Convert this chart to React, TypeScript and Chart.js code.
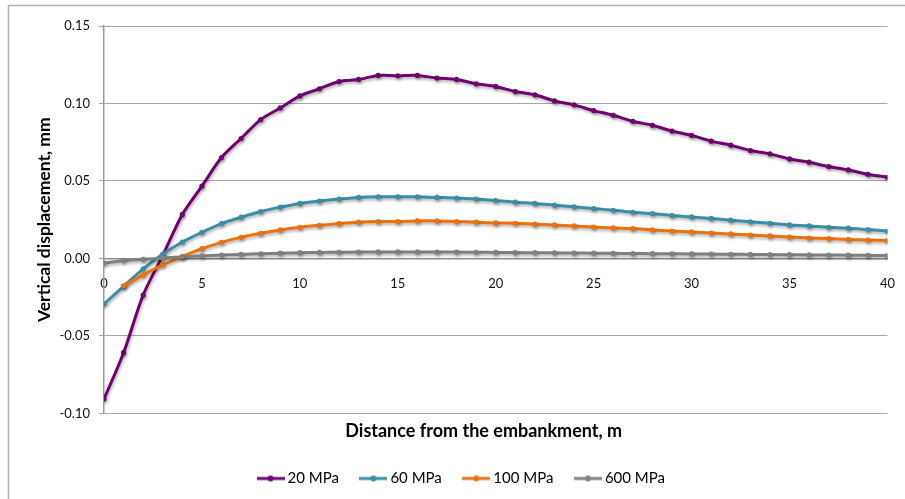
import React, { useEffect, useRef } from "react";
import { Chart, registerables } from "chart.js";

Chart.register(...registerables);

// Distance from the embankment (m)
const distances = [
  0, 1, 2, 3, 4, 5, 6, 7, 8, 9, 10, 11, 12, 13, 14, 15, 16, 17, 18, 19, 20,
  21, 22, 23, 24, 25, 26, 27, 28, 29, 30, 31, 32, 33, 34, 35, 36, 37, 38, 39, 40,
];

// Vertical displacement (mm) per soil modulus
const mpa20 = [
  -0.0907, -0.0608, -0.0236, 0.002, 0.0284, 0.0467, 0.0651, 0.0774, 0.0896, 0.0971,
  0.1049, 0.1095, 0.1142, 0.1155, 0.1181, 0.1179, 0.1181, 0.1164, 0.1155, 0.1127,
  0.111, 0.1077, 0.1056, 0.1017, 0.0991, 0.0954, 0.0924, 0.0885, 0.0859, 0.0822,
  0.0794, 0.0757, 0.0731, 0.0696, 0.0675, 0.0642, 0.0621, 0.0593, 0.0571, 0.0543,
  0.0524,
];
const mpa60 = [
  -0.0294, -0.018, -0.0067, 0.0028, 0.0106, 0.0169, 0.0225, 0.0266, 0.0303, 0.0331,
  0.0355, 0.037, 0.0383, 0.0394, 0.0398, 0.0398, 0.0398, 0.0394, 0.039, 0.0383,
  0.0374, 0.0363, 0.0355, 0.0344, 0.0333, 0.0322, 0.0311, 0.0298, 0.029, 0.0277,
  0.0268, 0.0258, 0.0247, 0.0236, 0.0227, 0.0216, 0.021, 0.0201, 0.0195, 0.0186,
  0.0177,
];
const mpa100 = [
  null, -0.0177, -0.0106, -0.0041, 0.0013, 0.0063, 0.0104, 0.0136, 0.0162, 0.0184,
  0.0201, 0.0214, 0.0225, 0.0234, 0.0238, 0.0238, 0.0242, 0.0242, 0.0238, 0.0234,
  0.0229, 0.0227, 0.0221, 0.0216, 0.021, 0.0203, 0.0197, 0.0193, 0.0184, 0.0177,
  0.0171, 0.0164, 0.0158, 0.0151, 0.0145, 0.0138, 0.0132, 0.0128, 0.0123, 0.0119,
  0.0115,
];
const mpa600 = [
  -0.003, -0.0013, -0.0006, 0.0002, 0.0011, 0.0017, 0.0022, 0.0026, 0.003, 0.0034,
  0.0037, 0.0039, 0.004, 0.0041, 0.0042, 0.0042, 0.0042, 0.0041, 0.0041, 0.004,
  0.0039, 0.0038, 0.0037, 0.0036, 0.0035, 0.0034, 0.0033, 0.0032, 0.0031, 0.003,
  0.0029, 0.0028, 0.0027, 0.0026, 0.0025, 0.0024, 0.0023, 0.0022, 0.0021, 0.002,
  0.0019,
];

const seriesLabels = ["20 MPa", "60 MPa", "100 MPa", "600 MPa"];
const seriesColors = ["#700070", "#3a8ea6", "#eb720f", "#808080"];
const seriesValues = [mpa20, mpa60, mpa100, mpa600];

const xTitle = "Distance from the embankment, m";
const yTitle = "Vertical displacement, mm";

const FONT = "Lato, 'Open Sans', sans-serif";

// Legend swatch: a short line with a marker dot in the middle
function makeSwatch(color: string): HTMLCanvasElement {
  const c = document.createElement("canvas");
  c.width = 28;
  c.height = 8;
  const g = c.getContext("2d")!;
  g.strokeStyle = color;
  g.lineWidth = 3;
  g.beginPath();
  g.moveTo(0, 4);
  g.lineTo(28, 4);
  g.stroke();
  g.fillStyle = color;
  g.beginPath();
  g.arc(14, 4, 3, 0, Math.PI * 2);
  g.fill();
  return c;
}

// Outer frame along the top and left edges
const framePlugin = {
  id: "frame",
  beforeDraw(chart: Chart) {
    const ctx = chart.ctx;
    ctx.save();
    ctx.strokeStyle = "#b0b0b0";
    ctx.lineWidth = 1.5;
    ctx.beginPath();
    ctx.moveTo(8.5, chart.height);
    ctx.lineTo(8.5, 5.5);
    ctx.lineTo(chart.width, 5.5);
    ctx.stroke();
    ctx.restore();
  },
};

// Nudge the axis title and legend sideways after layout
const offsetPlugin = {
  id: "boxOffsets",
  afterLayout(chart: any) {
    const t = chart.scales.xTitle;
    if (t) {
      t.left -= 12;
      t.right -= 12;
    }
    const lg = chart.legend;
    if (lg) {
      lg.left += 18;
      lg.right += 18;
    }
  },
};

// Soft drop shadow under the series lines
const shadowPlugin = {
  id: "lineShadow",
  beforeDatasetsDraw(chart: Chart) {
    const ctx = chart.ctx;
    ctx.save();
    ctx.shadowColor = "rgba(0,0,0,0.3)";
    ctx.shadowBlur = 3;
    ctx.shadowOffsetX = 1;
    ctx.shadowOffsetY = 2;
  },
  afterDatasetsDraw(chart: Chart) {
    chart.ctx.restore();
  },
};

export default function App() {
  const ref = useRef<HTMLCanvasElement | null>(null);

  useEffect(() => {
    if (!ref.current) return;
    const swatches = seriesColors.map(makeSwatch);

    const datasets = seriesValues.map((vals, i) => ({
      label: seriesLabels[i],
      data: distances.map((d, j) => ({ x: d, y: vals[j] })),
      borderColor: seriesColors[i],
      backgroundColor: seriesColors[i],
      borderWidth: 3,
      pointRadius: 2.6,
      pointHoverRadius: 2.6,
      pointBorderWidth: 0,
      tension: 0.3,
      fill: false,
      order: seriesValues.length - i,
    }));

    const chart = new Chart(ref.current, {
      type: "line",
      data: { datasets },
      plugins: [framePlugin, offsetPlugin, shadowPlugin],
      options: {
        responsive: false,
        devicePixelRatio: 1,
        animation: false,
        font: { family: FONT },
        layout: { padding: { left: 0, right: 15, top: 26, bottom: 3 } },
        plugins: {
          tooltip: { enabled: false },
          legend: {
            position: "bottom",
            labels: {
              usePointStyle: true,
              pointStyleWidth: 19,
              padding: 25,
              color: "#000",
              font: { family: FONT, size: 15 },
              sort: (a: any, b: any) => a.datasetIndex - b.datasetIndex,
              generateLabels: (chart: Chart) => {
                const items = Chart.defaults.plugins.legend.labels.generateLabels(chart);
                return items.map((it: any) => ({
                  ...it,
                  pointStyle: swatches[it.datasetIndex],
                }));
              },
            },
          },
        },
        scales: {
          x: {
            type: "linear",
            position: { y: 0 } as any,
            min: 0,
            max: 40,
            ticks: {
              stepSize: 5,
              padding: 10,
              color: "#111",
              font: { family: FONT, size: 13 },
              maxRotation: 0,
            },
            grid: { display: false },
            border: { display: true, color: "#8c8c8c", width: 1.5 },
          },
          xTitle: {
            type: "linear",
            position: "bottom",
            min: 0,
            max: 40,
            ticks: { display: false },
            grid: { display: false, drawTicks: false },
            border: { display: false },
            title: {
              display: true,
              text: xTitle,
              color: "#000",
              font: { family: FONT, size: 18, weight: "bold" },
              padding: { top: 7, bottom: 4 },
            },
          },
          y: {
            type: "linear",
            position: "left",
            min: -0.1,
            max: 0.15,
            afterFit: (scale: any) => {
              scale.width = 104;
            },
            ticks: {
              stepSize: 0.05,
              padding: 9,
              color: "#111",
              font: { family: FONT, size: 13 },
              callback: (v: any) => Number(v).toFixed(2),
            },
            grid: {
              color: "#a6a6a6",
              lineWidth: 1,
              drawTicks: true,
              tickLength: 5,
            },
            border: { display: true, color: "#9a9a9a", width: 1.5 },
            title: {
              display: true,
              text: yTitle,
              color: "#000",
              font: { family: FONT, size: 17.5, weight: "bold" },
              padding: { top: 33.5, bottom: 0 },
            },
          },
        },
      },
    });

    return () => chart.destroy();
  }, []);

  return (
    <div style={{ position: "absolute", left: 0, top: 0, width: 905, height: 499, background: "#fff" }}>
      <canvas ref={ref} width={905} height={499} />
    </div>
  );
}
